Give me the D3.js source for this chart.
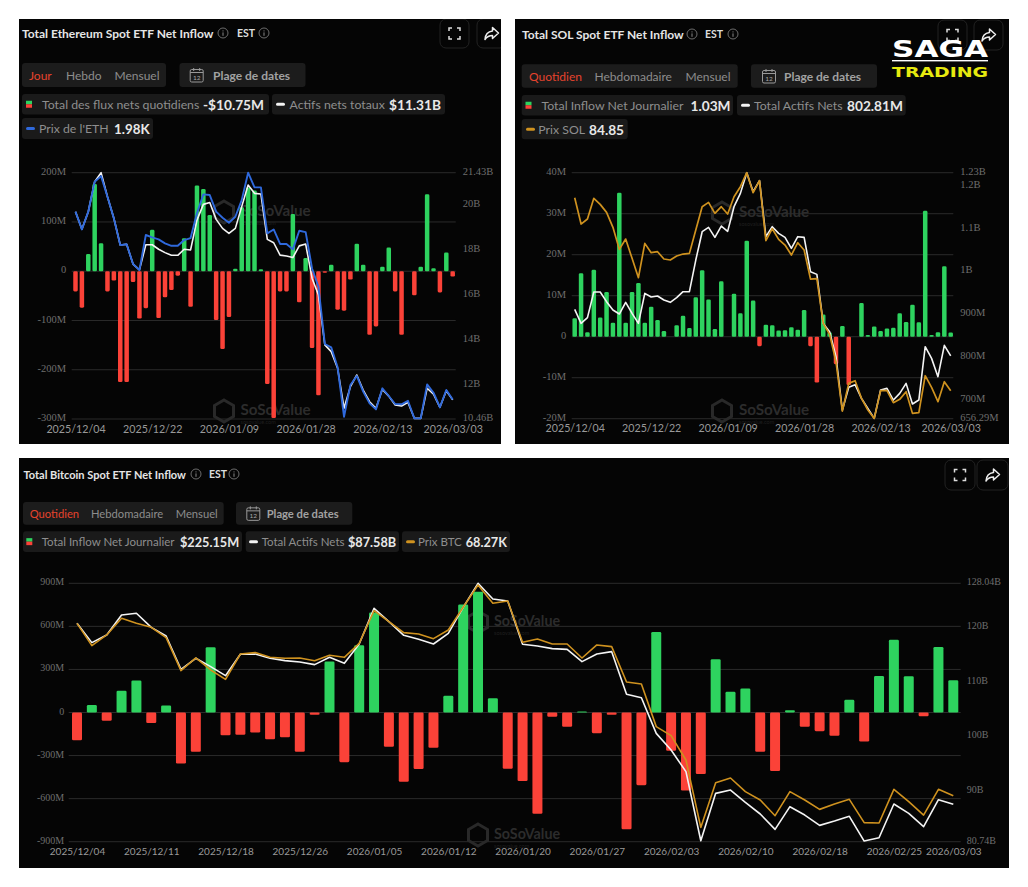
<!DOCTYPE html>
<html>
<head>
<meta charset="utf-8">
<script src="https://cdn.jsdelivr.net/npm/d3@7/dist/d3.min.js"></script>
<style>
html,body{margin:0;padding:0;background:#fff;}
svg{display:block;}
text{font-family:Lato,"Noto Sans",sans-serif;}
</style>
</head>
<body>
<svg id="c" width="1028" height="887"></svg>
<script>
const dates = ["2025/12/04","2025/12/05","2025/12/08","2025/12/09","2025/12/10","2025/12/11","2025/12/12","2025/12/15","2025/12/16","2025/12/17","2025/12/18","2025/12/19","2025/12/22","2025/12/23","2025/12/24","2025/12/26","2025/12/29","2025/12/30","2025/12/31","2026/01/02","2026/01/05","2026/01/06","2026/01/07","2026/01/08","2026/01/09","2026/01/12","2026/01/13","2026/01/14","2026/01/15","2026/01/16","2026/01/20","2026/01/21","2026/01/22","2026/01/23","2026/01/26","2026/01/27","2026/01/28","2026/01/29","2026/01/30","2026/02/02","2026/02/03","2026/02/04","2026/02/05","2026/02/06","2026/02/09","2026/02/10","2026/02/11","2026/02/12","2026/02/13","2026/02/17","2026/02/18","2026/02/19","2026/02/20","2026/02/23","2026/02/24","2026/02/25","2026/02/26","2026/02/27","2026/03/02","2026/03/03"];

const ethDateTicks = ["2025/12/04","2025/12/22","2026/01/09","2026/01/28","2026/02/13","2026/03/03"];
const solDateTicks = ["2025/12/04","2025/12/22","2026/01/09","2026/01/28","2026/02/13","2026/03/03"];
const btcDateTicks = ["2025/12/04","2025/12/11","2025/12/18","2025/12/26","2026/01/05","2026/01/12","2026/01/20","2026/01/27","2026/02/03","2026/02/10","2026/02/18","2026/02/25","2026/03/03"];

const ethFlowTicks = [-300,-200,-100,0,100,200];
const ethAssetTicks = [10.46,12,14,16,18,20,21.43];
const solFlowTicks = [-20,-10,0,10,20,30,40];
const solAssetTicks = [656.29,700,800,900,1000,1100,1200,1230];
const btcFlowTicks = [-900,-600,-300,0,300,600,900];
const btcAssetTicks = [80.74,90,100,110,120,128.04];

const ethFlow = [-41,-74,35,177,57,-41,-19,-225,-225,-22,-96,-75,84,-95,-53,-38,-9,67,-72,174,167,114,-99,-158,-93,5,130,170,164,4,-229,-298,-41,-41,116,-63,27,-156,-252,-3,13,-78,-80,-17,56,13,-129,-112,9,48,-41,-129,0,-49,9,156,6,-43,38,-10.75];
const ethAssets = [19.69,18.91,19.69,21.03,21.43,20.36,19.40,18.21,18.24,17.36,17.10,18.22,18.22,18.02,17.87,17.75,17.75,18.02,17.99,19.32,20.02,20.10,19.35,18.95,18.73,18.95,19.92,20.88,20.51,20.48,18.46,18.31,17.76,17.72,17.65,18.17,18.25,16.73,15.98,13.76,13.46,12.72,10.94,11.90,12.42,11.75,11.23,10.94,11.78,11.48,11.08,11.04,11.20,10.49,10.49,11.83,11.57,10.98,11.72,11.31];
const ethPrice = [3131,3022,3131,3315,3349,3223,3090,2926,2931,2810,2773,2988,2973,2961,2937,2922,2922,2957,2969,3121,3237,3233,3131,3094,3063,3100,3202,3370,3280,3280,2998,3022,2933,2933,2900,3014,3006,2783,2671,2320,2299,2177,1874,2068,2124,2028,1956,1919,2048,2001,1952,1950,1972,1864,1864,2072,2021,1932,2038,1980];
const ethPriceRange = [1860,3370];

const solFlow = [4.5,15.5,1.1,16.3,4.7,10.9,3.4,35.1,3.4,10.9,13.1,3.4,7.3,4.1,1.4,0,2.8,5.1,2.1,9.6,16.2,9.1,1.9,13.5,0,10.5,5.7,23.4,8.8,-2.3,2.9,2.8,1.5,1.6,2.3,1.7,6.5,-2.3,-11.2,5.4,1,-6.7,2.6,-11.8,0,8.2,0.4,2.5,1.4,2,2.2,5.7,3.6,7.8,3.5,30.7,0.4,1.1,17.2,1.03];
const solAssets = [911.3,878.6,891.9,951.7,951.7,929.2,909.7,900.4,927.6,902,878.6,948.6,940.1,942.4,933.1,927.6,938.5,952.5,952.5,1026.3,1092.4,1102.5,1079.2,1105.6,1093.2,1150.7,1181.8,1230,1185.7,1211.4,1080.8,1104.1,1088.5,1079.2,1053.6,1080.8,1079.2,999.1,992.9,878.6,859.2,800.9,676.5,729.4,735.6,703.7,680.4,657.1,723.2,727,699.8,715.4,738.7,690.5,699.8,824.2,797,754.3,827.3,802.81];
const solPrice = [146.07,137.72,139.31,145.86,143.96,141.42,136.67,129.69,132.97,126.84,120.71,131.59,128.63,128.95,126.63,126.31,127.58,128.21,128.42,135.82,143.22,144.59,141.11,143.22,140.89,146.39,149.56,154,147.66,151.46,132.44,136.24,132.86,131.06,127.89,131.8,129.48,120.28,120.39,106.23,102.74,94.07,78.43,87.2,88.05,82.45,78.75,76.1,84.88,84.88,81.07,82.13,84.56,77.69,77.9,89.63,85.93,81.39,87.73,84.85];
const solPriceRange = [76,154];

const btcFlow = [-193,53,-58,151,223,-74,49,-355,-274,455,-158,-155,-139,-186,-172,-274,-16,355,-346,469,696,-239,-483,-394,-246,116,752,842,100,-392,-478,-705,-30,-100,7,-144,-16,-814,-506,561,-267,-543,-429,371,144,167,-274,-408,16,-100,-130,-162,88,-202,255,506,253,-26,457,225.15];
const btcAssets = [120.71,117.18,118.58,122.24,122.55,119.98,118.4,112.29,114.31,112.78,111.13,115.04,115.1,114.31,113.88,113.64,113.15,114.49,113.39,116.93,123.46,121.02,118.52,117.79,116.93,118.88,123.64,128.04,125.17,124.8,116.87,116.56,116.08,115.95,113.7,115.1,115.53,107.72,107.1,100.57,97.52,93.56,80.92,89.59,90.2,87.94,85.81,83,87.15,85.62,83.73,84.52,85.38,80.86,81.47,87.64,85.93,83.49,88.43,87.58];
const btcPrice = [92,88.93,90.4,92.69,92,91.45,90.03,85.49,87.23,85.58,84.29,87.78,87.97,87.32,87.19,87.23,86.86,87.6,87.32,89.25,93.75,92.23,90.72,90.54,89.89,91.09,94.21,97.28,94.76,95.08,89.39,89.85,89.16,89.16,87.23,89.02,88.79,83.93,83.65,77.78,76.54,73.19,63.91,70.06,70.71,68.83,67.68,65.52,68.83,67.68,66.39,67.13,67.77,64.56,64.51,69.15,67.45,65.61,69.15,68.27];
const btcPriceRange = [61.94,97.51];

const GREEN="#2ed35f", RED="#fb4238", WHITE="#f4f4f4", BLUE="#2f69dc", ORANGE="#cf921f", BG="#050505";
const svg = d3.select("#c");

const fmtM = d => d===0 ? "0" : d+"M";
const fmtB = d => d+"B";
const fmtSol = d => d<1000 ? d+"M" : (d/1000)+"B";

function txt(g,x,y,s,o={}){
  return g.append("text").attr("x",x).attr("y",y).attr("dominant-baseline","central")
    .attr("font-size",o.size||12).attr("font-weight",o.weight||400).attr("fill",o.fill||"#999")
    .attr("text-anchor",o.anchor||"start").text(s);
}
function info(g,x,y){
  g.append("circle").attr("cx",x).attr("cy",y).attr("r",5).attr("fill","none").attr("stroke","#777").attr("stroke-width",.9);
  g.append("path").attr("d",`M${x} ${y-2.6}V${y-1.6}M${x} ${y-.6}V${y+2.8}`).attr("stroke","#888").attr("stroke-width",1);
}
function iconBtn(g,x,y,w,h,kind){
  g.append("rect").attr("x",x).attr("y",y).attr("width",w).attr("height",h).attr("rx",6).attr("fill","none").attr("stroke","#222");
  const cx=x+w/2, cy=y+h/2;
  if(kind==="full"){
    g.append("path").attr("transform",`translate(${cx},${cy})`).attr("fill","none").attr("stroke","#ddd").attr("stroke-width",1.5)
      .attr("d","M-5.5 -2.5V-5.5H-2.5M2.5 -5.5H5.5V-2.5M5.5 2.5V5.5H2.5M-2.5 5.5H-5.5V2.5");
  } else {
    g.append("path").attr("transform",`translate(${cx-8},${cy-8})`).attr("fill","none").attr("stroke","#eee").attr("stroke-width",1.5).attr("stroke-linejoin","round")
      .attr("d","M9 2L15 7.5L9 13V10C6 10 3.5 11 1.5 14C1.8 9.5 4.5 6 9 5.5Z");
  }
}
function calendar(g,x,y){
  const c=g.append("g").attr("transform",`translate(${x-6.5},${y-7})`);
  c.append("rect").attr("y",1.5).attr("width",13).attr("height",12.5).attr("rx",1.5).attr("fill","none").attr("stroke","#999");
  c.append("path").attr("d","M0 4.5H13M3.5 0V3M9.5 0V3").attr("stroke","#999").attr("fill","none");
  txt(c,6.5,9.3,"12",{size:6.5,fill:"#aaa",anchor:"middle"});
}
function chip(g,x0,x1,y0,y1,kind,iconX,color,lx,label,lSize,vx,value,vSize){
  g.append("rect").attr("x",x0).attr("y",y0).attr("width",x1-x0).attr("height",y1-y0).attr("rx",3).attr("fill","#1a1a1a");
  const cy=(y0+y1)/2;
  if(kind==="box"){
    g.append("rect").attr("x",iconX).attr("y",cy-3.5).attr("width",6).attr("height",3.5).attr("fill",GREEN);
    g.append("rect").attr("x",iconX).attr("y",cy).attr("width",6).attr("height",3.5).attr("fill",RED);
  } else {
    g.append("rect").attr("x",iconX).attr("y",cy-1.5).attr("width",9).attr("height",3).attr("rx",1.5).attr("fill",color);
  }
  txt(g,lx,cy,label,{size:lSize,fill:"#8e8e8e"});
  txt(g,vx,cy,value,{size:vSize,weight:700,fill:"#e8e8e8"});
}
function watermark(g,x,y,tx,size){
  const hex=d3.range(6).map(i=>{const a=Math.PI/3*i-Math.PI/2;return [x+11*Math.cos(a),y+11*Math.sin(a)];});
  g.append("path").attr("d",d3.line()(hex)+"Z").attr("fill","none").attr("stroke","#292929").attr("stroke-width",3);
  txt(g,tx,y-2,"SoSoValue",{size:size,weight:700,fill:"#2c2c2c"});
  txt(g,tx,y+10.5,"sosovalue.com",{size:5.5,fill:"#1f1f1f"});
}

function drawPanel(p,id){
  svg.append("clipPath").attr("id",id).append("rect")
    .attr("x",p.box[0]).attr("y",p.box[1]).attr("width",p.box[2]-p.box[0]).attr("height",p.box[3]-p.box[1]);
  const g=svg.append("g").attr("clip-path",`url(#${id})`);
  g.append("rect").attr("x",p.box[0]).attr("y",p.box[1]).attr("width",p.box[2]-p.box[0]).attr("height",p.box[3]-p.box[1]).attr("fill",BG);

  // Header
  txt(g,p.titleX,p.titleY,p.title,{size:p.titleSize,weight:700,fill:"#e6e6e6"});
  info(g,p.info1,p.titleY);
  txt(g,p.estX,p.titleY-.5,"EST",{size:10.5,weight:700,fill:"#ddd"});
  info(g,p.info2,p.titleY);
  p.buttons.forEach(b=>iconBtn(g,b[0],b[1],b[2],b[3],b[4]));

  // Tabs
  const [tx0,tx1,ty0,ty1]=p.tabs;
  g.append("rect").attr("x",tx0).attr("y",ty0).attr("width",tx1-tx0).attr("height",ty1-ty0).attr("rx",3).attr("fill","#1c1c1c");
  p.tabLabels.forEach((t,i)=>txt(g,t[0],(ty0+ty1)/2,t[1],{size:p.tabSize,fill:i===0?"#e5432d":"#8d8d8d"}));
  const [dx0,dx1]=p.dateBtn;
  g.append("rect").attr("x",dx0).attr("y",ty0).attr("width",dx1-dx0).attr("height",ty1-ty0).attr("rx",3).attr("fill","#1c1c1c");
  calendar(g,p.calX,(ty0+ty1)/2);
  txt(g,p.plageX,(ty0+ty1)/2,"Plage de dates",{size:p.tabSize,weight:700,fill:"#a2a2a2"});
  p.chips.forEach(c=>chip(g,...c));

  // Scales
  const x=d3.scalePoint().domain(dates).range(p.xRange);
  const yL=d3.scaleLinear().domain(p.flowDomain).range(p.yRange);
  const yR=d3.scaleLinear().domain(p.assetDomain).range(p.yRange);
  const yP=d3.scaleLinear().domain(p.priceDomain).range(p.yRange);

  // Grid
  g.append("g").selectAll("line").data(p.flowTicks).join("line")
    .attr("x1",p.grid[0]).attr("x2",p.grid[1]).attr("y1",d=>yL(d)).attr("y2",d=>yL(d))
    .attr("stroke","#2b2b2b").attr("stroke-width",1);
  p.marks.forEach(m=>watermark(g,m[0],m[1],m[2],p.markSize));

  // Axes
  const axL=g.append("g").attr("transform",`translate(${p.grid[0]-2},0)`)
    .call(d3.axisLeft(yL).tickValues(p.flowTicks).tickFormat(fmtM).tickSize(0).tickPadding(p.leftPad));
  const axR=g.append("g").attr("transform",`translate(${p.grid[1]},0)`)
    .call(d3.axisRight(yR).tickValues(p.assetTicks).tickFormat(p.assetFmt).tickSize(0).tickPadding(p.rightPad));
  [axL,axR].forEach(a=>{
    a.select(".domain").remove();
    a.selectAll("text").attr("fill","#6e6e6e").style("font-family","'Liberation Serif',serif").style("font-size",p.axisSize+"px").attr("dy","0.15em");
  });
  const axB=g.append("g").attr("transform",`translate(0,${p.yRange[0]+p.dateDy})`)
    .call(d3.axisBottom(x).tickValues(p.dateTicks).tickSize(0).tickPadding(0));
  axB.select(".domain").remove();
  axB.selectAll("text").attr("fill","#999").style("font-size",p.dateSize+"px").style("font-family","Lato,sans-serif");

  // Bars
  g.append("g").selectAll("rect").data(p.flow).join("rect")
    .attr("x",(d,i)=>x(dates[i])-p.barW/2).attr("width",p.barW)
    .attr("y",d=>d>=0?yL(d):yL(0)).attr("height",d=>Math.abs(yL(d)-yL(0)))
    .attr("rx",1.3).attr("fill",d=>d>=0?GREEN:RED);

  // Lines
  const lineOf=(vals,scale,color,w)=>g.append("path").datum(vals)
    .attr("d",d3.line().x((d,i)=>x(dates[i])).y(d=>scale(d)))
    .attr("fill","none").attr("stroke",color).attr("stroke-width",w).attr("stroke-linejoin","round");
  lineOf(p.assets,yR,WHITE,1.6);
  lineOf(p.price,yP,p.priceColor,p.priceW);
}

drawPanel({
  box:[19,19,501,444], title:"Total Ethereum Spot ETF Net Inflow", titleSize:12, titleX:22, titleY:33, info1:223, estX:237, info2:264,
  buttons:[[440,19,29,29,"full"],[477,19,29,29,"share"]],
  tabs:[22,166,63,87], tabSize:12, tabLabels:[[29,"Jour"],[66,"Hebdo"],[114.5,"Mensuel"]], dateBtn:[179.5,305.5], calX:196.7, plageX:213,
  chips:[
    [22,269,94,114.5,"box",26,null,42,"Total des flux nets quotidiens",12.3,203,"-$10.75M",13.7],
    [272,445,94,114.5,"dash",276,WHITE,289.5,"Actifs nets totaux",12.3,389,"$11.31B",13.7],
    [22,153,118,139,"dash",26,BLUE,39,"Prix de l'ETH",12.3,114,"1.98K",13.4]],
  xRange:[75.5,452.7], yRange:[419,172.7], grid:[71.7,455.7],
  flowDomain:[-300,200], assetDomain:[10.46,21.43], priceDomain:ethPriceRange,
  flowTicks:ethFlowTicks, assetTicks:ethAssetTicks, assetFmt:fmtB, dateTicks:ethDateTicks,
  flow:ethFlow, assets:ethAssets, price:ethPrice, priceColor:BLUE, priceW:1.9, barW:4.5,
  marks:[[224,212,240.5],[224,411,240.5]], markSize:15.2, leftPad:3.5, rightPad:7, axisSize:10.5, dateDy:6, dateSize:10.7
},"clipEth");
drawPanel({
  box:[515,19,1009,444], title:"Total SOL Spot ETF Net Inflow", titleSize:12, titleX:522, titleY:34, info1:692, estX:705, info2:733,
  buttons:[[938,20,29,30,"full"],[974,20,29,30,"share"]],
  tabs:[521.7,737.7,64.3,87.7], tabSize:12, tabLabels:[[529,"Quotidien"],[594.5,"Hebdomadaire"],[685.5,"Mensuel"]], dateBtn:[751,877], calX:769, plageX:784,
  chips:[
    [521.7,733,95,115.5,"box",525.5,null,541.5,"Total Inflow Net Journalier",12.3,690.5,"1.03M",13.7],
    [737,905.7,95,115.5,"dash",741,WHITE,754,"Total Actifs Nets",12.3,847,"802.81M",13.7],
    [521.7,627.7,119,139.3,"dash",526,ORANGE,538.3,"Prix SOL",12.3,589,"84.85",13.7]],
  xRange:[574.7,950.7], yRange:[418.7,172.7], grid:[571.7,953.3],
  flowDomain:[-20,40], assetDomain:[656.29,1230], priceDomain:solPriceRange,
  flowTicks:solFlowTicks, assetTicks:solAssetTicks, assetFmt:fmtSol, dateTicks:solDateTicks,
  flow:solFlow, assets:solAssets, price:solPrice, priceColor:ORANGE, priceW:1.7, barW:4.5,
  marks:[[722,213,739],[722,411,739]], markSize:15.2, leftPad:3.5, rightPad:7, axisSize:10.5, dateDy:6, dateSize:10.7
},"clipSol");
drawPanel({
  box:[19,458,1009,868], title:"Total Bitcoin Spot ETF Net Inflow", titleSize:11, titleX:23.5, titleY:474, info1:196, estX:209, info2:234,
  buttons:[[945,460,30,30,"full"],[977,460,31,30,"share"]],
  tabs:[23,223.7,502,524.7], tabSize:11.2, tabLabels:[[29.7,"Quotidien"],[91,"Hebdomadaire"],[175.7,"Mensuel"]], dateBtn:[236,352.3], calX:253.3, plageX:266.7,
  chips:[
    [23,242,531.3,552,"box",26.3,null,41.7,"Total Inflow Net Journalier",11.5,180,"$225.15M",12.7],
    [245.7,399,531.3,552,"dash",249,WHITE,261.7,"Total Actifs Nets",11.5,348,"$87.58B",12.7],
    [402,510,531.3,552,"dash",406,ORANGE,418,"Prix BTC",11.5,465.7,"68.27K",12.7]],
  xRange:[77,953.3], yRange:[841.7,583.3], grid:[68.7,960.7],
  flowDomain:[-900,900], assetDomain:[80.74,128.04], priceDomain:btcPriceRange,
  flowTicks:btcFlowTicks, assetTicks:btcAssetTicks, assetFmt:fmtB, dateTicks:btcDateTicks,
  flow:btcFlow, assets:btcAssets, price:btcPrice, priceColor:ORANGE, priceW:1.6, barW:10,
  marks:[[478,622,494],[478,835,494]], markSize:14.3, leftPad:2.5, rightPad:6, axisSize:10, dateDy:6.5, dateSize:10
},"clipBtc");

// Brand mark over the SOL panel
const logo=svg.append("g");
logo.append("text").attr("x",892).attr("y",57).attr("font-size",23).attr("font-weight",900).attr("fill","#fff")
  .attr("textLength",96).attr("lengthAdjust","spacingAndGlyphs").style("font-family","'DejaVu Sans',sans-serif").text("SAGA");
logo.append("rect").attr("x",892).attr("y",60).attr("width",96).attr("height",1.4).attr("fill","#fff");
logo.append("text").attr("x",892).attr("y",76.7).attr("font-size",14).attr("font-weight",900).attr("fill","#e6e90f")
  .attr("textLength",96).attr("lengthAdjust","spacingAndGlyphs").style("font-family","'DejaVu Sans',sans-serif").text("TRADING");
</script>
</body>
</html>
